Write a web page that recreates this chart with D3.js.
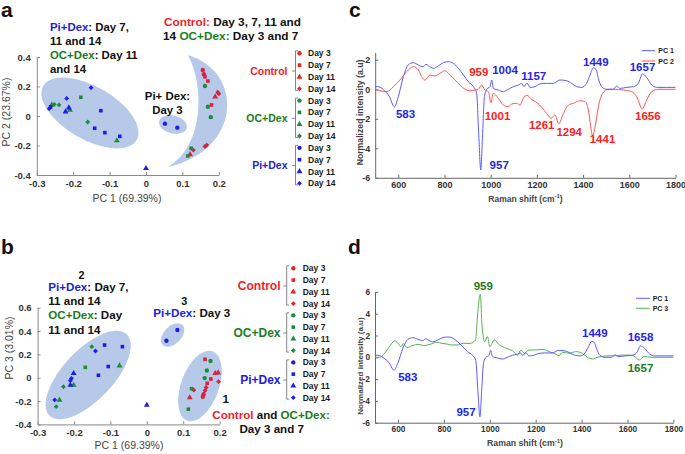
<!DOCTYPE html>
<html><head><meta charset="utf-8">
<script src="https://cdn.jsdelivr.net/npm/d3@7"></script>
<style>body{margin:0;background:#fff}svg{display:block}text{font-family:"Liberation Sans",Arial,sans-serif}</style>
</head><body><svg id="fig" width="685" height="454"></svg>
<script>
// ---------------- DATA ----------------
const groups = ["Control", "OC+Dex", "Pi+Dex"];
const days = ["Day 3", "Day 7", "Day 11", "Day 14"];

// PCA scores [PC1, PC2, dayIndex]  (panel a)
const controlA = [[0.156,0.312,0],[0.159,0.283,0],[0.162,0.266,1],[0.170,0.237,1],[0.197,0.161,3],[0.200,0.151,3],[0.190,0.131,2],[0.180,0.075,1],[0.167,-0.197,3],[0.162,-0.207,3],[0.130,-0.231,3],[0.121,-0.261,2]];
const ocDexA = [[0.162,0.203,0],[0.170,0.063,0],[0.178,-0.008,0],[0.124,-0.219,1],[0.115,-0.271,1],[-0.259,0.075,2],[-0.252,0.079,3],[-0.239,0.075,3],[-0.209,0.041,2],[-0.179,0.127,1],[-0.160,-0.041,3],[-0.080,-0.167,2]];
const piDexA = [[0.052,-0.052,0],[0.086,-0.079,0],[0.0,-0.355,2],[-0.266,0.050,3],[-0.262,0.062,1],[-0.218,0.119,3],[-0.212,0.056,2],[-0.221,0.029,2],[-0.151,0.192,3],[-0.124,0.036,1],[-0.141,-0.083,1],[-0.113,-0.113,1],[-0.072,-0.138,1]];

// PCA scores [PC1, PC3, dayIndex]  (panel b)
const controlB = [[0.160,0.158,1],[0.188,0.038,2],[0.196,0.043,2],[0.176,-0.011,1],[0.197,-0.034,3],[0.166,-0.048,1],[0.163,-0.084,3],[0.160,-0.110,3],[0.156,-0.142,0],[0.154,-0.163,0],[0.129,-0.105,3],[0.118,-0.170,2]];
const ocDexB = [[0.175,0.143,0],[0.165,0.062,0],[0.159,-0.003,0],[0.123,-0.094,1],[0.114,-0.270,1],[-0.151,0.266,3],[-0.075,0.103,2],[-0.169,0.089,1],[-0.201,-0.063,2],[-0.229,-0.077,3],[-0.240,-0.191,2],[-0.249,-0.248,3]];
const piDexB = [[0.054,0.317,0],[0.084,0.409,0],[0.0,-0.234,2],[-0.141,0.229,3],[-0.116,0.280,1],[-0.067,0.266,1],[-0.106,0.096,1],[-0.133,0.021,1],[-0.201,0.038,2],[-0.207,-0.005,3],[-0.210,-0.025,3],[-0.210,-0.063,2],[-0.253,-0.190,3]];

// Loadings [Raman shift, intensity]
const loadPC1 = [[500,0.2],[520,0.15],[540,-0.1],[560,-0.45],[583,-1.18],[600,-0.5],[622,0.86],[643,1.65],[665,1.8],[687,1.65],[708,1.53],[720,1.7],[730,1.6],[752,1.42],[773,1.58],[795,1.8],[817,1.87],[838,1.76],[860,1.42],[882,0.97],[903,0.52],[925,0.18],[939,-0.27],[948,-2.99],[957,-5.47],[965,-2.99],[973,-0.5],[983,0],[997,0.18],[1004,0.63],[1012,0.05],[1033,-0.05],[1055,-0.16],[1076,0],[1098,0.18],[1120,0.29],[1134,0.4],[1144,0.18],[1157,0.42],[1170,0.13],[1192,0.18],[1213,0.36],[1242,0.4],[1271,0.4],[1300,0.63],[1329,0.58],[1350,0.4],[1372,0.18],[1394,0.13],[1415,0.4],[1430,0.97],[1444,1.45],[1456,1.35],[1466,0.74],[1480,0.18],[1502,0],[1531,0],[1545,0.22],[1560,0.06],[1589,0.13],[1618,0.18],[1639,0.4],[1657,1.04],[1675,0.81],[1697,0.29],[1719,0.13],[1762,0.13],[1800,0.13]];
const loadPC2 = [[500,0],[521,-0.1],[550,-0.16],[579,0.18],[607,0.63],[636,1.19],[665,1.53],[687,1.31],[701,0.86],[716,0.62],[737,0.97],[759,0.9],[780,1.08],[802,1.26],[824,0.97],[846,0.63],[867,0.29],[889,0],[910,-0.1],[932,-0.05],[946,0],[961,0.28],[975,-0.05],[990,-0.16],[1001,-0.92],[1011,-0.27],[1033,-0.61],[1055,-1.07],[1076,-1.18],[1091,-1.0],[1112,-0.95],[1127,-1.07],[1141,-0.61],[1156,-0.4],[1177,-0.68],[1199,-0.9],[1221,-1.22],[1242,-1.63],[1262,-1.97],[1278,-1.74],[1295,-2.33],[1315,-1.63],[1336,-1.07],[1358,-0.95],[1387,-0.77],[1408,-0.84],[1423,-1.4],[1433,-2.53],[1441,-3.15],[1452,-2.53],[1466,-1.18],[1485,-0.27],[1509,0],[1531,0],[1574,-0.05],[1610,-0.16],[1632,-0.5],[1656,-1.33],[1675,-0.73],[1697,-0.16],[1726,0],[1800,0]];
const loadPC3 = [[500,0],[520,0],[542,0.37],[563,0.98],[586,1.5],[600,1.28],[614,0.98],[623,1.25],[640,0.89],[662,1.07],[690,1.19],[712,1.07],[740,1.19],[770,1.38],[792,1.28],[813,1.22],[835,1.13],[857,1.13],[885,1.28],[914,1.28],[938,1.59],[948,4.19],[959,5.8],[966,2.97],[978,1.44],[990,1.9],[1000,0.98],[1020,1.59],[1042,1.13],[1072,0.83],[1100,0.58],[1121,0.2],[1136,0.67],[1150,0.37],[1172,0.67],[1201,0.67],[1230,0.73],[1259,0.52],[1288,0.28],[1302,0.15],[1317,0.46],[1346,0.37],[1375,0.52],[1403,0.37],[1425,0],[1447,-0.15],[1468,0],[1505,0.12],[1548,0.15],[1577,0.2],[1606,0.2],[1628,0.12],[1652,-0.25],[1671,0.06],[1707,0],[1800,0]];

// tick values
const ticksPC1 = [-0.3,-0.2,-0.1,0,0.1,0.2];
const ticksPC2 = [-0.4,-0.2,0,0.2,0.4];
const ticksPC3 = [-0.4,-0.2,0,0.2,0.4,0.6];
const ticksRaman = [600,800,1000,1200,1400,1600,1800];
const ticksIntC = [-6,-4,-2,0,2];
const ticksIntD = [-6,-4,-2,0,2,4,6];

// ---------------- STYLE ----------------
const FONT = '"Liberation Sans",Arial,sans-serif';
const markerCol = ["#d8213f", "#1e8a3a", "#1c1cee"];
const legendMarkerCol = ["#ee2020", "#1e8a3a", "#1c1cee"];
const textCol = ["#f01e28", "#1b7d1b", "#2020e0"];
const ellFill = "#b7c9e8";
const axisCol = "#8a8a8a";
const tickTextCol = "#333";
const diamond = d3.symbolDiamond2 || d3.symbolDiamond;
const shapes = [d3.symbolCircle, d3.symbolSquare, d3.symbolTriangle, diamond];
const shapeSize = [15, 13, 15, 15];

const svg = d3.select("#fig");

function styleAxis(g, fs, col) {
  g.select(".domain").attr("stroke", col).attr("stroke-width", 1);
  g.selectAll(".tick line").attr("stroke", col);
  g.selectAll(".tick text").attr("fill", tickTextCol).attr("font-size", fs).attr("font-weight", "bold").attr("font-family", FONT);
}
function axes(x, y, xt, yt, o) {
  const gx = svg.append("g").attr("transform", `translate(0,${y.range()[0]})`)
    .call(d3.axisBottom(x).tickValues(xt).tickSizeInner(-3).tickSizeOuter(0).tickPadding(o.px).tickFormat(d => String(d)));
  styleAxis(gx, o.fs, o.col);
  const gy = svg.append("g").attr("transform", `translate(${x.range()[0]},0)`)
    .call(d3.axisLeft(y).tickValues(yt).tickSizeInner(-3).tickSizeOuter(0).tickPadding(o.py).tickFormat(d => String(d)));
  styleAxis(gy, o.fs, o.col);
}
function txt(s, x, y, opt = {}) {
  const t = svg.append("text").attr("x", x).attr("y", y)
    .attr("font-size", opt.fs || 12).attr("font-weight", opt.w || "bold")
    .attr("fill", opt.c || "#111").attr("text-anchor", opt.a || "start").attr("font-family", FONT);
  if (opt.rot) t.attr("transform", `rotate(-90,${x},${y})`);
  if (Array.isArray(s)) { s.forEach(p => t.append("tspan").attr("fill", p[1]).text(p[0])); }
  else t.text(s);
  return t;
}
function ellipse(x, y, cx, cy, a, b, ang) {
  const k = x(1) - x(0);
  svg.append("ellipse").attr("rx", a * k).attr("ry", b * k)
    .attr("transform", `translate(${x(cx)},${y(cy)}) rotate(${ang})`)
    .attr("fill", ellFill);
}
function points(x, y, sets) {
  sets.forEach((set, gi) => {
    svg.append("g").selectAll("path").data(set).join("path")
      .attr("d", d => d3.symbol(shapes[d[2]], shapeSize[d[2]])())
      .attr("transform", d => `translate(${x(d[0])},${y(d[1])})`)
      .attr("fill", markerCol[gi]);
  });
}
function legend(y0, step, xb, xm, xt, labelRight, labelFs) {
  groups.forEach((gname, gi) => {
    const rows = days.map((d, di) => y0 + step * (gi * 4 + di));
    const top = rows[0] - 2.5, bot = rows[3] + 1.5, mid = (rows[0] + rows[3]) / 2;
    svg.append("path").attr("d", `M${xb + 2.5},${top}H${xb}V${bot}H${xb + 2.5}M${xb},${mid}H${xb - 3.5}`)
      .attr("fill", "none").attr("stroke", "#666").attr("stroke-width", 0.8);
    txt(gname, labelRight, mid + labelFs * 0.36, { fs: labelFs, c: textCol[gi], a: "end" });
    days.forEach((d, di) => {
      svg.append("path").attr("d", d3.symbol(shapes[di], shapeSize[di])())
        .attr("transform", `translate(${xm},${rows[di]})`).attr("fill", legendMarkerCol[gi]);
      txt(d, xt, rows[di] + 3, { fs: 8.5, c: "#1a1a1a" });
    });
  });
}

// ---------------- PANEL a ----------------
const xA = d3.scaleLinear([-0.3, 0.2], [36.8, 218.8]);
const yA = d3.scaleLinear([-0.4, 0.4], [175, 57]);
ellipse(xA, yA, -0.154, 0.02, 0.148, 0.073, 30);
ellipse(xA, yA, 0.074, -0.058, 0.039, 0.025, 15);
// crescent outline (data units)
const crescent = [[0.115,0.414],[0.27,0.30],[0.265,-0.231],[0.060,-0.346],[0.162,-0.197],[0.160,0.210]];
{
  const p = crescent.map(d => [xA(d[0]), yA(d[1])]);
  svg.append("path").attr("d", `M${p[0]}C${p[1]} ${p[2]} ${p[3]}C${p[4]} ${p[5]} ${p[0]}Z`).attr("fill", ellFill);
}
axes(xA, yA, ticksPC1, ticksPC2, { px: 5, py: 6, fs: 9.5, col: axisCol });
points(xA, yA, [controlA, ocDexA, piDexA]);
txt("PC 1 (69.39%)", 127, 201.5, { fs: 10.5, w: "normal", c: "#444", a: "middle" });
txt("PC 2 (23.67%)", 9.5, 112, { fs: 10.5, w: "normal", c: "#444", a: "middle", rot: true });
txt("a", 1, 16.5, { fs: 21 });
txt([["Pi+Dex", textCol[2]], [": Day 7,", "#111"]], 50, 30.7, { fs: 11.4 });
txt("11 and 14", 50, 45, { fs: 11.4 });
txt([["OC+Dex", textCol[1]], [": Day 11", "#111"]], 50, 59, { fs: 11.4 });
txt("and 14", 50, 73.3, { fs: 11.4 });
txt([["Control:", textCol[0]], [" Day 3, 7, 11 and", "#111"]], 164, 26, { fs: 11.8 });
txt([["14 ", "#111"], ["OC+Dex:", textCol[1]], [" Day 3 and 7", "#111"]], 163, 40.3, { fs: 11.8 });
txt("Pi+ Dex:", 167.5, 100, { fs: 11.4, a: "middle" });
txt("Day 3", 167.5, 113.5, { fs: 11.4, a: "middle" });
legend(53.3, 11.82, 295.5, 299.5, 308, 287.5, 10.5);

// ---------------- PANEL b ----------------
const xB = d3.scaleLinear([-0.3, 0.2], [37.6, 219.6]);
const yB = d3.scaleLinear([-0.4, 0.6], [424.4, 307.7]);
ellipse(xB, yB, -0.161, 0.023, 0.154, 0.069, -46.6);
ellipse(xB, yB, 0.071, 0.366, 0.0385, 0.0242, -45);
ellipse(xB, yB, 0.146, -0.071, 0.1016, 0.052, -70);
axes(xB, yB, ticksPC1, ticksPC3, { px: 5, py: 6, fs: 9.5, col: axisCol });
points(xB, yB, [controlB, ocDexB, piDexB]);
txt("PC 1 (69.39%)", 129, 449, { fs: 10.5, w: "normal", c: "#444", a: "middle" });
txt("PC 3 (3.01%)", 12.5, 348, { fs: 10.5, w: "normal", c: "#444", a: "middle", rot: true });
txt("b", 1, 253.5, { fs: 21 });
txt("2", 81.5, 279.3, { fs: 10.8, a: "middle" });
txt([["Pi+Dex", textCol[2]], [": Day 7,", "#111"]], 48.3, 291, { fs: 11.6 });
txt("11 and 14", 48.3, 305, { fs: 11.6 });
txt([["OC+Dex", textCol[1]], [": Day", "#111"]], 48.3, 319.3, { fs: 11.6 });
txt("11 and 14", 48.3, 333.7, { fs: 11.6 });
txt("3", 184.3, 305.3, { fs: 10.8, a: "middle" });
txt([["Pi+Dex", textCol[2]], [": Day 3", "#111"]], 153.3, 317, { fs: 11.6 });
txt("1", 225.7, 403.3, { fs: 11.6, a: "middle" });
txt([["Control", textCol[0]], [" and ", "#111"], ["OC+Dex:", textCol[1]]], 212.3, 419.3, { fs: 11.6 });
txt("Day 3 and 7", 271.7, 433.3, { fs: 11.6, a: "middle" });
legend(268.3, 11.76, 286.7, 293.3, 302.7, 280.5, 12);

// ---------------- PANEL c ----------------
const xC = d3.scaleLinear([500, 1800], [375.2, 675.5]);
const yC = d3.scaleLinear([-6, 2.5], [177.8, 52.4]);
axes(xC, yC, ticksRaman, ticksIntC, { px: 4, py: 5, fs: 9, col: "#666" });
const lineC = d3.line().x(d => xC(d[0])).y(d => yC(d[1])).curve(d3.curveMonotoneX);
svg.append("path").datum(loadPC2).attr("d", lineC).attr("fill", "none").attr("stroke", "#ff5555").attr("stroke-width", 1);
svg.append("path").datum(loadPC1).attr("d", lineC).attr("fill", "none").attr("stroke", "#5a5aff").attr("stroke-width", 1);
txt("c", 349, 16.5, { fs: 21 });
txt("Normalized intensity (a.u)", 362.5, 112.5, { fs: 8.7, c: "#444", a: "middle", rot: true });
txt([["Raman shift (cm", "#444"]], 525.5, 201.7, { fs: 8.5, c: "#444", a: "middle" }).call(t => {
  t.append("tspan").attr("dy", -3.5).attr("font-size", 6).text("-1");
  t.append("tspan").attr("dy", 3.5).text(")");
});
[["PC 1", "#5a5aff", 50.7], ["PC 2", "#ff5555", 61]].forEach(l => {
  svg.append("line").attr("x1", 641.7).attr("x2", 655).attr("y1", l[2]).attr("y2", l[2]).attr("stroke", l[1]).attr("stroke-width", 1);
  txt(l[0], 658.3, l[2] + 2.5, { fs: 7, c: "#222" });
});
const labelsC = [["583", 405.5, 118.3, 2], ["959", 478.8, 76, 0], ["1004", 505, 74, 2], ["1157", 533.8, 80, 2], ["1449", 595.8, 66, 2], ["1657", 642.5, 70.7, 2], ["1001", 497.5, 120, 0], ["1261", 541.7, 129.3, 0], ["1294", 569.2, 136, 0], ["1441", 602.5, 143.3, 0], ["1656", 647.8, 120, 0], ["957", 499.2, 169.3, 2]];
const specCol = ["#ff2020", "#1b7d1b", "#2424f0"];
labelsC.forEach(l => txt(l[0], l[1], l[2], { fs: 11.5, c: specCol[l[3]], a: "middle" }));

// ---------------- PANEL d ----------------
const xD = d3.scaleLinear([500, 1800], [375, 673.4]);
const yD = d3.scaleLinear([-6, 6], [422.7, 291.9]);
axes(xD, yD, ticksRaman, ticksIntD, { px: 3.7, py: 5, fs: 8.3, col: "#666" });
const lineD = d3.line().x(d => xD(d[0])).y(d => yD(d[1])).curve(d3.curveMonotoneX);
svg.append("path").datum(loadPC3).attr("d", lineD).attr("fill", "none").attr("stroke", "#55b055").attr("stroke-width", 1);
svg.append("path").datum(loadPC1).attr("d", lineD).attr("fill", "none").attr("stroke", "#5a5aff").attr("stroke-width", 1);
txt("d", 348, 253.5, { fs: 21 });
txt("Normalized intensity (a.u)", 362.5, 366, { fs: 8, c: "#444", a: "middle", rot: true });
txt([["Raman shift (cm", "#444"]], 525, 446, { fs: 8.7, c: "#444", a: "middle" }).call(t => {
  t.append("tspan").attr("dy", -3.5).attr("font-size", 6).text("-1");
  t.append("tspan").attr("dy", 3.5).text(")");
});
[["PC 1", "#5a5aff", 298.3], ["PC 3", "#55b055", 308.3]].forEach(l => {
  svg.append("line").attr("x1", 636).attr("x2", 650).attr("y1", l[2]).attr("y2", l[2]).attr("stroke", l[1]).attr("stroke-width", 1);
  txt(l[0], 652.7, l[2] + 2.5, { fs: 7, c: "#222" });
});
const labelsD = [["959", 483.3, 290, 1], ["583", 407.8, 381, 2], ["957", 466, 415.7, 2], ["1449", 594.8, 336.7, 2], ["1658", 640.5, 341, 2], ["1657", 640.5, 371.7, 1]];
labelsD.forEach(l => txt(l[0], l[1], l[2], { fs: 11.5, c: specCol[l[3]], a: "middle" }));
</script></body></html>
